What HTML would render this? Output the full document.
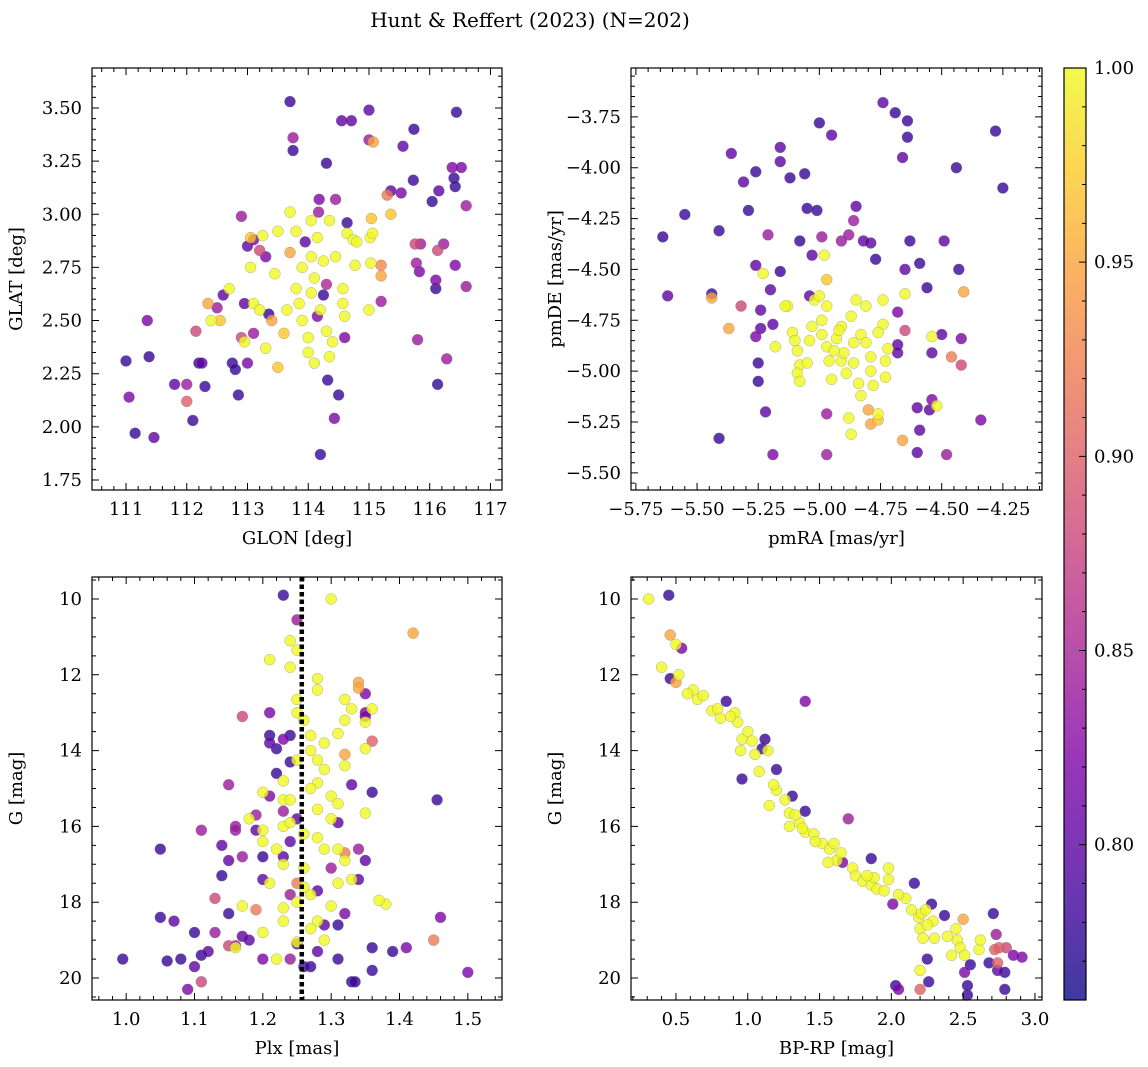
<!DOCTYPE html>
<html><head><meta charset="utf-8"><style>
body{margin:0;background:#fff;}
svg{display:block;font-family:"DejaVu Serif","Liberation Serif",serif;}
</style></head><body>
<svg id="fig" width="1148" height="1067" viewBox="0 0 1148 1067">
<text x="530" y="27" font-size="20" text-anchor="middle">Hunt &amp; Reffert (2023) (N=202)</text>
</svg>
<script>
const tlPoints=[[111.0,2.31,0.78],[111.05,2.14,0.82],[111.15,1.97,0.78],[111.35,2.50,0.82],[111.38,2.33,0.78],[111.46,1.95,0.80],[111.8,2.20,0.80],[112.0,2.20,0.84],[112.0,2.12,0.9],[112.1,2.03,0.78],[112.15,2.45,0.88],[112.2,2.30,0.78],[112.25,2.30,0.8],[112.3,2.19,0.78],[112.35,2.58,0.95],[112.4,2.50,1.0],[112.5,2.56,0.84],[112.55,2.50,0.97],[112.6,2.62,0.8],[112.7,2.65,1.0],[112.75,2.30,0.78],[112.8,2.27,0.78],[112.85,2.15,0.78],[112.9,2.99,0.84],[112.9,2.42,0.88],[112.95,2.58,0.8],[112.95,2.40,1.0],[113.0,2.30,0.82],[113.0,2.85,0.8],[113.05,2.89,0.97],[113.05,2.75,1.0],[113.1,2.88,0.82],[113.1,2.58,1.0],[113.1,2.44,0.84],[113.2,2.83,0.88],[113.2,2.55,1.0],[113.25,2.90,1.0],[113.3,2.37,1.0],[113.3,2.80,0.82],[113.35,2.53,0.78],[113.4,2.50,0.95],[113.45,2.72,1.0],[113.5,2.28,0.97],[113.5,2.92,1.0],[113.6,2.44,0.97],[113.65,2.55,1.0],[113.7,3.53,0.78],[113.7,2.82,0.95],[113.7,3.01,1.0],[113.75,3.36,0.84],[113.75,3.30,0.78],[113.8,2.92,1.0],[113.8,2.65,1.0],[113.85,2.58,1.0],[113.9,2.75,1.0],[113.9,2.50,1.0],[113.95,2.87,0.8],[114.0,2.42,1.0],[114.0,2.35,1.0],[114.05,2.63,1.0],[114.05,2.80,1.0],[114.1,2.70,1.0],[114.1,2.30,1.0],[114.15,2.52,0.82],[114.15,2.89,1.0],[114.2,2.55,1.0],[114.25,2.62,0.78],[114.25,2.78,1.0],[114.3,2.45,1.0],[114.3,2.67,0.85],[114.35,2.97,1.0],[114.35,2.33,1.0],[114.4,2.40,1.0],[114.45,3.07,0.84],[114.45,2.80,1.0],[114.2,1.87,0.78],[114.18,3.07,0.82],[114.17,3.01,0.84],[114.05,2.97,1.0],[114.3,3.24,0.78],[114.5,2.15,0.78],[114.43,2.04,0.82],[114.32,2.22,0.78],[114.6,2.52,1.0],[114.6,2.42,0.82],[114.57,2.65,1.0],[114.57,2.58,1.0],[114.64,2.96,0.78],[114.64,2.91,1.0],[114.74,2.88,1.0],[114.77,2.76,1.0],[114.8,2.87,1.0],[114.55,3.44,0.8],[114.71,3.44,0.8],[115.0,3.49,0.8],[115.0,3.35,0.84],[115.07,3.34,0.95],[115.04,2.98,0.97],[115.02,2.89,1.0],[115.06,2.91,1.0],[115.03,2.77,1.0],[115.0,2.55,1.0],[115.2,2.71,0.95],[115.2,2.76,0.93],[115.2,2.59,0.84],[115.36,3.00,0.97],[115.3,3.09,0.92],[115.36,3.11,0.8],[115.53,3.10,0.82],[115.56,3.32,0.8],[115.74,3.40,0.78],[115.73,3.16,0.78],[115.76,2.86,0.88],[115.78,2.77,0.84],[115.83,2.73,0.82],[115.8,2.41,0.84],[115.85,2.86,0.84],[116.04,3.06,0.78],[116.15,3.11,0.8],[116.13,2.83,0.88],[116.1,2.69,0.82],[116.1,2.65,0.78],[116.13,2.20,0.78],[116.28,2.32,0.84],[116.23,2.86,0.84],[116.42,2.76,0.82],[116.6,2.66,0.84],[116.44,3.48,0.78],[116.37,3.22,0.82],[116.52,3.22,0.82],[116.4,3.17,0.78],[116.42,3.13,0.78],[116.6,3.04,0.84]];
const trPoints=[[-5.64,-4.34,0.78],[-5.62,-4.63,0.8],[-5.55,-4.23,0.78],[-5.44,-4.62,0.78],[-5.44,-4.64,0.95],[-5.41,-4.31,0.78],[-5.41,-5.33,0.78],[-5.37,-4.79,0.95],[-5.36,-3.93,0.8],[-5.32,-4.68,0.88],[-5.31,-4.07,0.8],[-5.29,-4.21,0.78],[-5.26,-4.02,0.78],[-5.26,-4.48,0.8],[-5.26,-4.83,0.82],[-5.25,-4.96,0.78],[-5.25,-5.05,0.78],[-5.24,-4.79,0.8],[-5.24,-4.70,0.8],[-5.21,-4.33,0.84],[-5.2,-4.6,0.8],[-5.22,-5.2,0.8],[-5.19,-5.41,0.82],[-5.19,-4.77,0.8],[-5.16,-3.97,0.8],[-5.16,-3.9,0.8],[-5.16,-4.51,0.78],[-5.12,-4.05,0.78],[-5.08,-4.36,0.78],[-5.06,-4.03,0.78],[-5.05,-4.2,0.78],[-5.04,-4.63,0.8],[-5.03,-4.43,0.8],[-5.01,-4.21,0.78],[-5.0,-3.78,0.78],[-4.99,-4.34,0.84],[-4.97,-5.21,0.84],[-4.97,-5.41,0.84],[-4.95,-3.84,0.8],[-4.91,-4.36,0.84],[-4.88,-4.33,0.84],[-4.86,-4.26,0.84],[-4.85,-4.19,0.8],[-4.82,-4.36,0.8],[-4.79,-4.37,0.8],[-4.77,-4.45,0.78],[-4.74,-3.68,0.8],[-4.69,-3.73,0.78],[-4.66,-3.95,0.8],[-4.64,-3.77,0.78],[-4.64,-3.85,0.78],[-4.63,-4.36,0.78],[-4.65,-4.5,0.8],[-4.66,-5.34,0.95],[-4.65,-4.8,0.88],[-4.68,-4.71,0.82],[-4.68,-4.87,0.8],[-4.68,-4.91,0.8],[-4.59,-4.47,0.78],[-4.6,-5.18,0.8],[-4.59,-5.29,0.8],[-4.6,-5.4,0.8],[-4.55,-5.19,0.8],[-4.56,-4.59,0.78],[-4.54,-4.91,0.8],[-4.54,-5.14,0.82],[-4.52,-5.17,1.0],[-4.49,-4.36,0.8],[-4.48,-5.41,0.84],[-4.46,-4.93,0.92],[-4.44,-4.0,0.78],[-4.43,-4.5,0.78],[-4.42,-4.97,0.88],[-4.41,-4.61,0.95],[-4.42,-4.84,0.82],[-4.28,-3.82,0.78],[-4.25,-4.1,0.78],[-4.34,-5.24,0.82],[-4.5,-4.82,0.8],[-5.23,-4.52,1.0],[-5.13,-4.68,1.0],[-5.11,-4.81,1.0],[-5.1,-4.85,1.0],[-5.09,-4.9,1.0],[-5.08,-4.97,1.0],[-5.09,-5.01,1.0],[-5.08,-5.05,1.0],[-5.05,-4.96,1.0],[-5.04,-4.85,1.0],[-5.03,-4.78,1.0],[-4.99,-4.75,1.0],[-4.99,-4.82,1.0],[-4.97,-4.88,1.0],[-4.96,-4.95,1.0],[-4.95,-5.04,1.0],[-4.93,-4.84,1.0],[-4.91,-4.78,1.0],[-4.91,-4.95,1.0],[-4.9,-4.91,1.0],[-4.89,-5.01,1.0],[-4.88,-5.23,1.0],[-4.87,-5.31,1.0],[-4.86,-4.96,1.0],[-4.84,-5.06,1.0],[-4.83,-5.12,1.0],[-4.83,-4.82,1.0],[-4.81,-4.68,1.0],[-4.81,-4.86,1.0],[-4.79,-4.93,1.0],[-4.79,-5.0,1.0],[-4.78,-5.07,1.0],[-4.76,-5.21,1.0],[-4.74,-4.65,1.0],[-4.74,-4.77,1.0],[-4.73,-4.95,1.0],[-4.73,-5.03,1.0],[-4.72,-4.89,1.0],[-4.87,-4.73,1.0],[-4.85,-4.65,1.0],[-4.97,-4.68,1.0],[-4.79,-5.26,0.95],[-4.76,-5.24,0.97],[-4.8,-5.19,0.95],[-4.97,-4.55,0.97],[-4.65,-4.62,1.0],[-4.54,-4.83,1.0],[-5.02,-4.65,1.0],[-5.18,-4.88,1.0],[-5.14,-4.68,1.0],[-5.0,-4.63,1.0],[-4.98,-4.43,1.0],[-4.92,-4.8,1.0],[-4.86,-4.86,1.0],[-4.94,-4.9,1.0],[-4.76,-4.81,1.0]];
const blPoints=[[0.995,19.5,0.78],[1.05,16.6,0.78],[1.05,18.4,0.78],[1.06,19.55,0.78],[1.07,18.5,0.8],[1.08,19.5,0.78],[1.09,20.3,0.82],[1.1,19.7,0.8],[1.1,18.8,0.78],[1.11,19.4,0.78],[1.11,16.1,0.84],[1.11,20.1,0.88],[1.12,19.3,0.8],[1.13,18.8,0.84],[1.13,17.9,0.88],[1.14,16.5,0.8],[1.14,17.3,0.78],[1.15,18.3,0.78],[1.15,16.9,0.8],[1.15,19.15,0.88],[1.15,14.9,0.84],[1.16,16.0,0.84],[1.16,16.1,0.84],[1.16,19.15,0.84],[1.17,13.1,0.88],[1.17,18.9,0.8],[1.17,16.8,0.84],[1.18,19.0,0.8],[1.19,15.7,0.84],[1.19,18.2,0.92],[1.19,16.1,0.8],[1.2,17.4,0.8],[1.2,16.8,0.78],[1.2,19.5,0.82],[1.21,13.0,0.82],[1.21,13.6,0.78],[1.21,13.8,0.8],[1.21,15.2,0.82],[1.22,13.95,0.78],[1.22,14.6,0.78],[1.23,15.6,0.84],[1.23,13.7,0.82],[1.23,16.8,0.8],[1.24,17.8,0.84],[1.24,19.5,0.84],[1.24,14.3,0.78],[1.24,13.6,0.78],[1.23,9.9,0.78],[1.25,10.55,0.84],[1.24,16.4,0.8],[1.25,15.8,0.8],[1.25,17.5,0.92],[1.25,19.1,0.8],[1.26,19.7,0.78],[1.27,19.7,0.78],[1.28,19.3,0.8],[1.28,17.7,0.8],[1.29,18.6,0.8],[1.3,17.1,0.84],[1.31,15.9,0.8],[1.31,19.5,0.78],[1.31,18.6,0.78],[1.32,18.3,0.82],[1.33,14.9,0.8],[1.33,20.1,0.78],[1.335,20.1,0.78],[1.34,17.4,0.8],[1.35,16.9,0.8],[1.35,13.0,0.82],[1.35,13.1,0.82],[1.36,19.2,0.78],[1.36,15.1,0.78],[1.36,19.8,0.78],[1.36,13.75,0.9],[1.39,19.3,0.78],[1.41,19.2,0.82],[1.42,10.9,0.95],[1.45,19.0,0.92],[1.46,18.4,0.82],[1.455,15.3,0.78],[1.5,19.85,0.82],[1.34,12.2,0.95],[1.34,12.35,0.95],[1.35,12.5,0.82],[1.32,14.1,0.95],[1.32,16.7,0.92],[1.34,16.6,0.84],[1.3,10.0,1.0],[1.21,11.6,1.0],[1.24,11.8,1.0],[1.24,11.1,1.0],[1.25,11.35,1.0],[1.25,12.65,1.0],[1.28,12.4,1.0],[1.28,12.1,1.0],[1.26,13.2,1.0],[1.27,13.6,1.0],[1.27,14.0,1.0],[1.28,14.25,1.0],[1.29,13.8,1.0],[1.29,14.5,1.0],[1.28,14.85,1.0],[1.3,15.2,1.0],[1.31,15.4,1.0],[1.28,15.55,1.0],[1.28,16.3,1.0],[1.29,16.6,1.0],[1.32,16.9,1.0],[1.31,17.5,1.0],[1.3,18.1,1.0],[1.28,18.5,1.0],[1.27,17.8,1.0],[1.26,17.6,1.0],[1.26,17.1,1.0],[1.23,17.0,1.0],[1.23,18.15,1.0],[1.21,17.5,1.0],[1.2,16.1,1.0],[1.2,16.4,1.0],[1.23,16.0,1.0],[1.23,15.3,1.0],[1.23,14.8,1.0],[1.24,15.3,1.0],[1.2,15.1,1.0],[1.18,15.8,1.0],[1.25,14.25,1.0],[1.31,13.55,1.0],[1.32,13.2,1.0],[1.33,12.9,1.0],[1.32,12.65,1.0],[1.36,12.9,1.0],[1.35,13.25,1.0],[1.35,13.95,1.0],[1.32,14.4,1.0],[1.35,15.65,1.0],[1.38,18.05,1.0],[1.37,17.95,1.0],[1.33,17.4,1.0],[1.17,18.1,1.0],[1.16,19.2,1.0],[1.22,19.5,1.0],[1.25,19.05,1.0],[1.27,18.7,1.0],[1.31,16.6,1.0],[1.3,15.8,1.0],[1.25,13.0,1.0],[1.22,16.6,1.0],[1.26,16.2,1.0],[1.24,15.9,1.0],[1.27,15.0,1.0],[1.25,18.0,1.0],[1.23,18.5,1.0],[1.29,19.0,1.0],[1.2,18.8,1.0]];
const brPoints=[[0.31,10.0,1.0],[0.45,9.9,0.78],[0.46,10.95,0.95],[0.5,11.2,1.0],[0.54,11.3,0.82],[0.4,11.8,1.0],[0.46,12.1,0.78],[0.5,12.2,0.95],[0.52,12.0,1.0],[0.62,12.4,1.0],[0.65,12.65,1.0],[0.69,12.55,1.0],[0.75,12.95,1.0],[0.79,12.9,1.0],[0.85,12.7,0.78],[0.81,13.15,1.0],[0.93,13.25,1.0],[0.91,13.0,1.0],[0.96,13.7,1.0],[1.0,13.5,1.0],[1.03,13.75,1.0],[0.95,14.0,1.0],[1.1,13.95,0.78],[1.12,13.7,0.78],[1.14,14.0,1.0],[0.96,14.75,0.78],[1.08,14.55,1.0],[1.2,14.5,0.78],[1.2,15.05,1.0],[1.15,15.45,1.0],[1.26,15.3,1.0],[1.29,15.65,1.0],[1.29,16.0,1.0],[1.36,15.9,1.0],[1.4,16.15,1.0],[1.31,15.2,0.78],[1.4,15.6,0.78],[1.38,16.05,1.0],[1.4,12.7,0.82],[1.46,16.2,1.0],[1.52,16.45,1.0],[1.57,16.6,1.0],[1.6,16.45,1.0],[1.62,16.9,1.0],[1.56,16.95,1.0],[1.66,16.95,0.82],[1.7,15.8,0.84],[1.73,17.1,1.0],[1.75,17.3,1.0],[1.8,17.45,1.0],[1.86,17.55,1.0],[1.9,17.65,1.0],[1.86,16.85,0.78],[1.88,17.35,1.0],[1.95,17.7,1.0],[1.98,17.4,1.0],[1.98,17.1,1.0],[2.01,18.05,0.82],[2.1,17.9,1.0],[2.14,18.2,1.0],[2.16,17.5,0.78],[2.19,18.4,1.0],[2.2,18.7,1.0],[2.22,18.95,1.0],[2.21,18.3,1.0],[2.24,18.2,1.0],[2.28,18.05,0.78],[2.29,18.5,1.0],[2.2,19.8,1.0],[2.25,19.5,0.78],[2.26,20.1,0.78],[2.03,20.2,0.78],[2.05,20.3,0.82],[2.2,20.3,0.9],[2.37,18.35,0.78],[2.39,18.9,1.0],[2.42,19.4,1.0],[2.46,19.0,1.0],[2.48,19.2,1.0],[2.51,19.4,1.0],[2.51,19.85,0.82],[2.5,18.45,0.95],[2.55,19.65,0.78],[2.53,20.45,0.78],[2.53,20.2,0.78],[2.61,19.25,1.0],[2.62,19.0,1.0],[2.68,19.6,0.78],[2.72,19.25,0.9],[2.71,18.3,0.78],[2.73,18.85,0.84],[2.75,19.2,0.9],[2.74,19.8,0.8],[2.74,19.6,0.9],[2.79,19.85,0.78],[2.8,19.2,0.88],[2.85,19.4,0.82],[2.91,19.45,0.82],[2.79,20.3,0.78],[0.58,12.5,1.0],[0.88,13.1,1.0],[1.05,14.1,1.0],[1.18,14.9,1.0],[1.33,15.7,1.0],[1.47,16.4,1.0],[1.65,16.7,1.0],[1.83,17.3,1.0],[2.05,17.8,1.0],[2.25,18.6,1.0],[2.3,18.95,1.0],[2.45,18.7,1.0]];
const plxRef=1.257;
const cbTicks=[0.80,0.85,0.90,0.95,1.00];
const vmin=0.76, vmax=1.0;

const NS='http://www.w3.org/2000/svg';
const svg=document.getElementById('fig');
const FS=18;
function el(tag,attrs,parent){const e=document.createElementNS(NS,tag);for(const k in attrs)e.setAttribute(k,attrs[k]);(parent||svg).appendChild(e);return e;}
const stops=[[0,[13,8,135]],[0.125,[75,3,161]],[0.25,[125,3,168]],[0.375,[168,34,150]],[0.5,[203,70,121]],[0.625,[229,107,93]],[0.75,[248,148,65]],[0.875,[253,195,40]],[1,[240,249,33]]];
function plasma(t){t=Math.max(0,Math.min(1,t));for(let i=1;i<stops.length;i++){if(t<=stops[i][0]){const a=stops[i-1],b=stops[i];const f=(t-a[0])/(b[0]-a[0]);const c=a[1].map((v,j)=>Math.round(v+(b[1][j]-v)*f));return `rgb(${c[0]},${c[1]},${c[2]})`;}}return 'rgb(240,249,33)';}
function fmt(v,d){const s=v.toFixed(d);return s.replace('-','\u2212');}

function panel(name,box,xr,yr,xt,xmin,yt,ymin,xd,yd,xl,yl,pts){
  const [L,T,R,B]=box;
  const sx=v=>L+(v-xr[0])/(xr[1]-xr[0])*(R-L);
  const sy=v=>T+(yr[1]-v)/(yr[1]-yr[0])*(B-T);
  const g=el('g',{});
  
  
  const sorted=pts.slice().sort((a,b)=>a[2]-b[2]);
  for(const p of sorted){
    const c=el('circle',{cx:sx(p[0]),cy:sy(p[1]),r:5.5,fill:plasma((p[2]-vmin)/(vmax-vmin)),'fill-opacity':0.8,stroke:'#777','stroke-width':0.4,'stroke-opacity':0.7},g);
    
    
  }
  const frame=el('rect',{x:L,y:T,width:R-L,height:B-T,fill:'none',stroke:'#000','stroke-width':1.2},g);
  
  
  let d='';
  const lo=Math.min(xr[0],xr[1]),hi=Math.max(xr[0],xr[1]);
  for(let v=Math.ceil(lo/xmin-1e-6)*xmin;v<=hi+1e-9;v+=xmin){const x=sx(v);d+=`M${x},${B}v-4M${x},${T}v4`;}
  const ylo=Math.min(yr[0],yr[1]),yhi=Math.max(yr[0],yr[1]);
  for(let v=Math.ceil(ylo/ymin-1e-6)*ymin;v<=yhi+1e-9;v+=ymin){const y=sy(v);d+=`M${L},${y}h4M${R},${y}h-4`;}
  for(const v of xt){const x=sx(v);d+=`M${x},${B}v-7M${x},${T}v7`;
    const t=el('text',{x:x,y:B+25,'font-size':FS,'text-anchor':'middle'},g);t.textContent=fmt(v,xd);
    }
  for(const v of yt){const y=sy(v);d+=`M${L},${y}h7M${R},${y}h-7`;
    const t=el('text',{x:L-10,y:y+6,'font-size':FS,'text-anchor':'end'},g);t.textContent=fmt(v,yd);
    }
  el('path',{d:d,stroke:'#000','stroke-width':1,fill:'none'},g);
  const xt_=el('text',{x:(L+R)/2,y:B+54,'font-size':FS,'text-anchor':'middle'},g);xt_.textContent=xl;
  
  const yx=L-70,yy=(T+B)/2;
  const yt_=el('text',{x:yx,y:yy,'font-size':FS,'text-anchor':'middle',transform:`rotate(-90 ${yx} ${yy})`},g);yt_.textContent=yl;
  
  return {sx,sy,g,T,B};
}
function rng(a,b,s){const r=[];for(let v=a;v<=b+1e-9;v+=s)r.push(+v.toFixed(6));return r;}

panel('glon-glat',[92,68,502,490],[110.44,117.19],[1.703,3.688],rng(111,117,1),0.2,rng(1.75,3.5,0.25),0.05,0,2,'GLON [deg]','GLAT [deg]',tlPoints);
panel('pm',[631,68,1042,490],[-5.77,-4.09],[-5.584,-3.51],rng(-5.75,-4.25,0.25),0.05,rng(-5.5,-3.75,0.25),0.05,2,2,'pmRA [mas/yr]','pmDE [mas/yr]',trPoints);
const bl=panel('plx-g',[92,577,502,1000],[0.95,1.55],[20.58,9.42],rng(1.0,1.5,0.1),0.02,rng(10,20,2),0.5,1,0,'Plx [mas]','G [mag]',blPoints);
const ref=el('line',{x1:bl.sx(plxRef),x2:bl.sx(plxRef),y1:bl.T,y2:bl.B,stroke:'#000','stroke-width':4.5,'stroke-dasharray':'4.5 3'},bl.g);


panel('cmd',[631,577,1042,1000],[0.187,3.049],[20.58,9.42],rng(0.5,3.0,0.5),0.1,rng(10,20,2),0.5,1,0,'BP-RP [mag]','G [mag]',brPoints);

const cb=el('g',{});


const defs=el('defs',{},cb);
const lg=el('linearGradient',{id:'cbg',x1:0,y1:1,x2:0,y2:0},defs);
for(let i=0;i<=20;i++){el('stop',{offset:i/20,'stop-color':plasma(i/20),'stop-opacity':0.8},lg);}
const CL=1064,CR=1086,CT=68,CB=1000;
el('rect',{x:CL,y:CT,width:CR-CL,height:CB-CT,fill:'url(#cbg)',stroke:'#000','stroke-width':1.2},cb);
const cy=v=>CB-(v-vmin)/(vmax-vmin)*(CB-CT);
let cd='';
for(let v=0.77;v<=1.0001;v+=0.01){cd+=`M${CR},${cy(v)}h-4`;}
for(const v of cbTicks){cd+=`M${CR},${cy(v)}h-7`;
  const t=el('text',{x:CR+8,y:cy(v)+6,'font-size':FS},cb);t.textContent=v.toFixed(2);
  }
el('path',{d:cd,stroke:'#000','stroke-width':1},cb);
</script>
</body></html>
